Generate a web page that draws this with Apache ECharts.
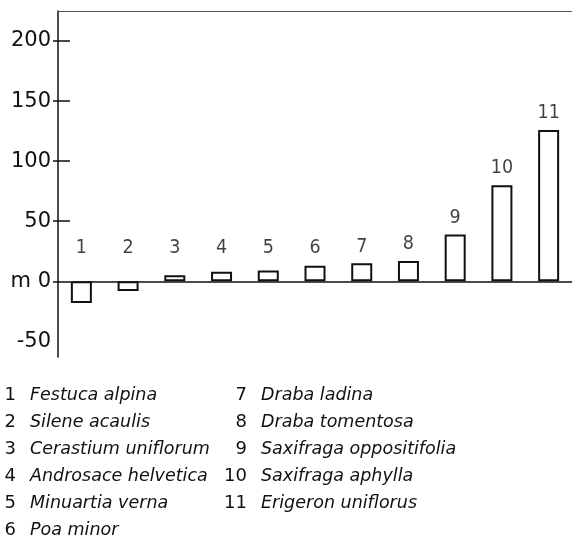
<!DOCTYPE html>
<html>
<head>
<meta charset="utf-8">
<script src="https://cdn.jsdelivr.net/npm/echarts@6/dist/echarts.min.js"></script>
<style>
  html, body { margin: 0; padding: 0; background: #fff; }
  #chart { width: 572px; height: 554px; }
</style>
</head>
<body>
<div id="chart"></div>
<script>
// data (height change in m)
const categories = ['1', '2', '3', '4', '5', '6', '7', '8', '9', '10', '11'];
const values = [-18, -8, 5, 8, 9, 13, 15, 17, 39, 80, 126];
const species = [
  'Festuca alpina', 'Silene acaulis', 'Cerastium uniflorum', 'Androsace helvetica',
  'Minuartia verna', 'Poa minor', 'Draba ladina', 'Draba tomentosa',
  'Saxifraga oppositifolia', 'Saxifraga aphylla', 'Erigeron uniflorus'
];
const yTicks = [-50, 0, 50, 100, 150, 200];
const tickMarks = [50, 100, 150, 200];
const outerTicks = [0, 50, 100, 150, 200];

const ink = '#111';
const chart = echarts.init(document.getElementById('chart'));

// number labels sit at a fixed height over the small bars, just above the tall ones
const labelData = values.map((v, i) => [i, Math.max(v, 14) + 14]);

// legend under the plot, two columns
const legend = [];
species.forEach((name, i) => {
  const col = i < 6 ? 0 : 1;
  const row = col === 0 ? i : i - 6;
  const y = 395 + row * 27;
  const numX = col === 0 ? 16 : 247;
  const nameX = col === 0 ? 30 : 261;
  legend.push({
    type: 'text', x: numX, y: y,
    style: {
      text: categories[i], fill: ink, fontSize: 18, fontFamily: 'DejaVu Sans',
      align: 'right', verticalAlign: 'middle', textAlign: 'right', textVerticalAlign: 'middle'
    }
  });
  legend.push({
    type: 'text', x: nameX, y: y,
    style: {
      text: name, fill: ink, fontSize: 17.5, fontFamily: 'DejaVu Sans', fontStyle: 'italic',
      align: 'left', verticalAlign: 'middle', textAlign: 'left', textVerticalAlign: 'middle'
    }
  });
});

const option = {
  animation: false,
  backgroundColor: '#fff',
  grid: { left: 58, top: 11, height: 346, width: 518 },
  xAxis: [
    {
      type: 'category', data: categories,
      axisLine: { onZero: true, lineStyle: { color: ink, width: 1.5 } },
      axisTick: { show: false }, axisLabel: { show: false }
    },
    {
      type: 'category', data: categories, position: 'top',
      axisLine: { onZero: false, lineStyle: { color: '#555', width: 1 } },
      axisTick: { show: false }, axisLabel: { show: false }
    }
  ],
  yAxis: [
    {
      type: 'value', min: -63, max: 225,
      axisLine: { show: true, onZero: false, lineStyle: { color: ink, width: 1.5 } },
      axisTick: { show: true, inside: true, length: 12, customValues: tickMarks, lineStyle: { color: ink, width: 1.5 } },
      axisLabel: {
        customValues: yTicks, margin: 7, color: ink, fontSize: 21, fontFamily: 'DejaVu Sans',
        formatter: v => (v === 0 ? 'm 0' : String(v))
      },
      splitLine: { show: false }
    },
    {
      type: 'value', min: -63, max: 225, position: 'left',
      axisLine: { show: false },
      axisTick: { show: true, inside: false, length: 5, customValues: outerTicks, lineStyle: { color: ink, width: 1.5 } },
      axisLabel: { show: false },
      splitLine: { show: false }
    }
  ],
  series: [
    {
      type: 'bar', data: values, barWidth: 21,
      itemStyle: { color: '#fff', borderColor: ink, borderWidth: 2 }
    },
    {
      type: 'scatter', data: labelData, symbolSize: 0, silent: true,
      label: {
        show: true, position: 'inside', color: ink, fontSize: 19.5,
        fontFamily: 'Liberation Sans Narrow, DejaVu Sans Condensed, sans-serif',
        formatter: p => categories[p.dataIndex]
      }
    }
  ],
  graphic: legend
};

chart.setOption(option);
</script>
</body>
</html>
